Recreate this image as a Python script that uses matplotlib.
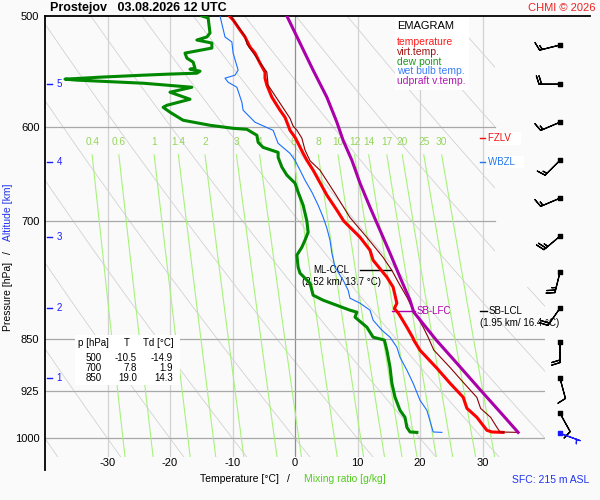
import numpy as np
import matplotlib
matplotlib.use('Agg')
import matplotlib.pyplot as plt
from matplotlib.patches import Polygon, Rectangle
from matplotlib.ticker import FixedLocator, NullLocator

plt.rcParams['font.family'] = ['Liberation Sans', 'DejaVu Sans']

# ---- sounding data ----
temp_p = [500, 503.3, 511.6, 517.5, 526.1, 531.4, 540.2, 548.3, 553.7, 560.1, 571.3, 583.6,
          590.4, 598.2, 603.2, 610.1, 616.2, 626.4, 633.6, 643.9, 670.9, 687.6, 700, 718.8,
          734.3, 746.5, 767.5, 780.2, 790.6, 801, 808, 815, 833.2, 848.4, 851, 865.3, 891.2,
          913.4, 934.6, 951.7, 966, 986.8, 989.5, 990.2]
temp_T = [-10.5, -9.9, -8.8, -8.0, -7.2, -6.4, -5.6, -4.8, -4.8, -4.5, -3.7, -2.4,
          -1.6, -1.1, -0.8, 0.0, 0.5, 1.3, 1.9, 2.9, 5.1, 6.7, 7.8, 10.4,
          12.0, 12.5, 14.7, 15.7, 16.0, 16.3, 15.9, 16.6, 17.9, 18.9, 19.0, 20.0, 22.7,
          24.8, 26.9, 27.5, 29.1, 30.7, 31.5, 33.3]

virt_p = [500, 516.6, 523.5, 548.3, 560.1, 591.4, 599, 603, 611, 623, 634, 644, 669, 696,
          719, 743, 759, 775, 793, 810, 833, 847, 865, 891, 913, 935, 952, 966, 982, 989.5, 990.2]
virt_T = [-10.3, -8.0, -7.7, -4.5, -4.3, -0.8, -0.3, 0.3, 1.1, 1.6, 2.4, 4.0, 6.4, 8.8,
          11.5, 14.1, 15.5, 16.6, 17.9, 18.9, 20.5, 21.3, 22.2, 24.9, 27.0, 29.1, 29.7, 31.3,
          32.3, 32.8, 35.7]

dew_p = [500, 501.6, 514.1, 517.5, 520.1, 522.7, 527, 531.4, 535.8, 539.3, 544.7, 545.6,
         547.4, 549.2, 550.1, 551, 552.8, 554.6, 555.5, 558.3, 562, 566.6, 573.2, 578.9,
         580.8, 585.5, 593.3, 598.2, 601.2, 602.2, 608.1, 615.2, 620.3, 625.4, 630.5, 640.7,
         649.2, 657.8, 667.6, 682, 700, 712.9, 722.3, 730.7, 740.3, 755.1, 762.5, 775.1,
         790.6, 797.1, 810.3, 812.9, 819.6, 833.2, 847, 851, 865.3, 889.7, 913.4, 934.6,
         954.9, 966, 982, 989.5, 990.2]
dew_T = [-14.9, -13.9, -13.6, -14.1, -15.7, -13.3, -13.3, -17.6, -17.3, -16.3, -16.0, -16.8,
         -15.2, -15.7, -20.5, -24.3, -31.2, -36.8, -34.9, -24.3, -16.5, -20.0, -16.8, -20.5,
         -21.1, -20.0, -17.9, -13.6, -9.9, -7.7, -6.1, -5.9, -5.1, -2.7, -2.7, -2.1,
         -1.3, 0.0, 0.5, 1.3, 1.9, 2.1, 1.6, 1.1, 0.3, 0.5, 0.8, 2.4,
         2.9, 4.5, 8.8, 9.9, 9.6, 11.5, 12.5, 14.3, 14.7, 15.2, 15.5, 16.0,
         16.8, 17.6, 17.9, 18.4, 19.5]

wet_p = [500, 517.5, 521.8, 531.4, 546.5, 551, 553.7, 557.4, 562, 576, 583.6, 595.2, 603.2,
         616.2, 626.4, 633.6, 643.9, 654.6, 667.6, 682, 695.6, 708.2, 722.3, 737.9, 755.1,
         771.3, 784.1, 794.5, 801, 810.3, 823.7, 837.3, 847, 861, 875.2, 894.1, 913.4, 939.3,
         954.9, 982, 989.5, 990.2]
wet_T = [-12.0, -11.2, -10.1, -9.9, -9.1, -9.6, -11.2, -10.7, -9.3, -8.5, -8.3, -6.4, -3.5,
         -2.7, -0.8, 0.0, 0.8, 1.6, 2.7, 3.7, 4.5, 5.1, 5.6, 5.9, 6.4,
         7.7, 8.5, 8.8, 10.4, 12.0, 12.5, 13.9, 15.2, 16.3, 16.8, 17.9, 18.9, 20.0,
         21.1, 21.9, 22.1, 23.5]

parcel_p = [500, 522.7, 546.5, 571.3, 595.2, 613.2, 633.6, 657.8, 684.3, 710.6, 737.9, 767.5,
            797.1, 812.8, 851, 884, 924, 963, 990.2]
parcel_T = [-1.3, 0.8, 2.9, 5.1, 6.7, 7.7, 9.1, 10.4, 12.0, 13.6, 15.2, 16.8,
            18.4, 19.0, 22.6, 25.9, 29.7, 33.3, 35.7]

mix_ratios = [0.4, 0.6, 1, 1.4, 2, 3, 4, 6, 8, 10, 12, 14, 17, 20, 25, 30]
mix_labels = ['0.4', '0.6', '1', '1.4', '2', '3', '4', '6', '8', '10', '12', '14', '17', '20', '25', '30']

p_ticks = [500, 600, 700, 850, 925, 1000]
t_ticks = [-30, -20, -10, 0, 10, 20, 30]
alt_km = [1, 2, 3, 4, 5]
alt_p = [906, 808, 718, 635, 559]

barb_p = [524.4, 559.2, 595.2, 633.6, 674.2, 717.6, 761.3, 807.6, 853.1, 905.9, 959.6, 991.7]
barb_dir = [256, 270, 247, 225, 247, 230, 194, 215, 180, 165, 151, 110]
barb_spd = [15, 20, 15, 15, 15, 25, 25, 20, 20, 10, 10, 5]

table_p = [500, 700, 850]
table_T = [-10.5, 7.8, 19.0]
table_Td = [-14.9, 1.9, 14.3]

fzlv_p = 611
wbzl_p = 635.5
ccl_p, ccl_text = 759, '(2.52 km/ 13.7 °C)'
lfc_p = 811
lcl_p, lcl_text = 811, '(1.95 km/ 16.4 °C)'

P_BOT = 1031
BG = '#fafafa'


def dewpt(w, p):
    e = w * p / (622.0 + w)
    a = np.log(e / 6.112)
    return 243.5 * a / (17.67 - a)


def F(x, y):
    return x / 600, 1 - y / 500


fig = plt.figure(figsize=(6, 5), dpi=100, facecolor=BG)
ax = fig.add_axes([45 / 600, 1 - 457 / 500, 500 / 600, 441 / 500])
ax.set_facecolor(BG)
ax.set_yscale('log')
ax.set_xlim(-40, 40)
ax.set_ylim(P_BOT, 500)
for s in ax.spines.values():
    s.set_visible(False)

clip = Polygon([[-40, 500], [32, 500], [32, 780], [40, 780], [40, P_BOT], [-40, P_BOT]],
               closed=True, facecolor='none', edgecolor='none')
ax.add_patch(clip)

# dry adiabats
pp = np.geomspace(500, P_BOT, 200)
for th in range(-40, 110, 10):
    tt = (th + 273.15) * (pp / 1000) ** 0.2857 - 273.15
    ln, = ax.plot(tt, pp, color='#d2d2d2', lw=0.6, zorder=1)
    ln.set_clip_path(clip)

# mixing ratio lines
pm = np.geomspace(628, P_BOT, 60)
for w, lab in zip(mix_ratios, mix_labels):
    ax.plot(dewpt(w, pm), pm, color='#a8f27c', lw=0.8, zorder=1.5)
    ax.text(dewpt(w, 628), 615, lab, color='#96d65a', fontsize=7.3, ha='center', va='center',
            zorder=1.5)

# isotherms and isobars
for t in t_ticks:
    ax.plot([t, t], [500, P_BOT], color='#909090' if t == 0 else '#d2d2d2', lw=0.9, zorder=1.2)
for p in p_ticks[1:]:
    ax.plot([-40, 32 if p < 800 else 40], [p, p], color='#a8a8a8', lw=0.9, zorder=1.3)

ax.plot([-40, 47.2], [500, 500], color='black', lw=1.3, clip_on=False, zorder=3)
ax.plot([-40, -40], [500, 1054], color='black', lw=1.3, clip_on=False, zorder=3)

ax.yaxis.set_major_locator(FixedLocator(p_ticks))
ax.yaxis.set_minor_locator(NullLocator())
ax.set_yticklabels([str(p) for p in p_ticks], fontsize=8)
ax.set_xticks(t_ticks)
ax.set_xticklabels([str(t) for t in t_ticks], fontsize=8)
ax.tick_params(axis='both', length=0)
ax.tick_params(axis='y', pad=4)
ax.tick_params(axis='x', pad=1)

# altitude marks
for km, p in zip(alt_km, alt_p):
    ax.plot([-39.7, -38.9], [p, p], color='#1a1aff', lw=1, zorder=3)
    ax.text(-37.7, p, str(km), color='#1a1aff', fontsize=7, ha='center', va='center', zorder=3)

# annotations
ax.plot([10.4, 15.4], [ccl_p, ccl_p], color='black', lw=1, zorder=2)
ax.text(5.84, ccl_p, 'ML-CCL', fontsize=7, ha='center', va='center', zorder=2)
ax.annotate(ccl_text, xy=(7.5, ccl_p), xytext=(0, -8.6), textcoords='offset points',
            fontsize=7, ha='center', va='center', zorder=2)
ax.plot([15.5, 19.2], [lfc_p, lfc_p], color='#b000b0', lw=1, zorder=2)
ax.text(19.4, lfc_p, 'SB-LFC', color='#b000b0', fontsize=7, ha='left', va='center', zorder=2)
ax.plot([29.6, 30.7], [lcl_p, lcl_p], color='black', lw=1, zorder=2, clip_on=False)
ax.text(30.9, lcl_p, 'SB-LCL', fontsize=7, ha='left', va='center', zorder=2, clip_on=False)
ax.annotate(lcl_text, xy=(36.0, lcl_p), xytext=(0, -8.6), textcoords='offset points',
            fontsize=7, ha='center', va='center', zorder=2, annotation_clip=False)
for lp, lab, col in [(fzlv_p, 'FZLV', '#ee1111'), (wbzl_p, 'WBZL', '#2277ee')]:
    ax.plot([29.6, 30.4], [lp, lp], color=col, lw=1, zorder=4)
    ax.text(30.9, lp, lab + '   ', color=col, fontsize=7, ha='left', va='center', zorder=4,
            bbox=dict(facecolor='white', edgecolor='none', pad=1))

# profiles
ax.plot(wet_T, wet_p, color='#1a6fff', lw=0.8, zorder=5)
ax.plot(dew_T, dew_p, color='#008800', lw=2.2, zorder=5)
ax.plot(temp_T, temp_p, color='#ff0000', lw=2.2, zorder=5)
ax.plot(virt_T, virt_p, color='#8b0000', lw=0.8, zorder=6)
ax.plot(parcel_T, parcel_p, color='#aa00aa', lw=2.2, zorder=6)

# wind barbs
d = np.radians(barb_dir)
u = -np.array(barb_spd) * np.sin(d)
v = -np.array(barb_spd) * np.cos(d)
bx = np.full(len(barb_p), 42.4)
ax.barbs(bx[:-1], barb_p[:-1], u[:-1], v[:-1], length=5.5, lw=0.9, color='black',
         clip_on=False, zorder=6)
ax.barbs(bx[-1:], barb_p[-1:], u[-1:], v[-1:], length=5.5, lw=0.9, color='#1a1aff',
         clip_on=False, zorder=6)
ax.scatter(bx[:-1], barb_p[:-1], s=6, marker='s', color='black', clip_on=False, zorder=7)
ax.scatter(bx[-1:], barb_p[-1:], s=6, marker='s', color='#1a1aff', clip_on=False, zorder=7)

# legend box
ax.add_patch(Rectangle(F(395, 90), 74 / 600, 73 / 500, transform=fig.transFigure,
                       facecolor='white', edgecolor='none', zorder=2, clip_on=False))
ax.text(*F(397, 26), 'EMAGRAM', transform=fig.transFigure, fontsize=8, va='center', zorder=3)
legend_items = [('temperature', '#ff1a1a'), ('virt.temp.', '#a01010'), ('dew point', '#1a9a1a'),
                ('wet bulb temp.', '#3a7dff'), ('udpraft v.temp.', '#b01ab0')]
for i, (lab, col) in enumerate(legend_items):
    ax.text(*F(397, 42 + 9.8 * i), lab, transform=fig.transFigure, fontsize=7.5, color=col,
            va='center', zorder=3)

# table
ax.add_patch(Rectangle(F(75, 385), 105 / 600, 50 / 500, transform=fig.transFigure,
                       facecolor='white', edgecolor='none', zorder=2, clip_on=False))
ax.text(*F(78, 343), 'p [hPa]', transform=fig.transFigure, fontsize=7, va='center', zorder=3)
ax.text(*F(127, 343), 'T', transform=fig.transFigure, fontsize=7, va='center', ha='center', zorder=3)
ax.text(*F(143, 343), 'Td [°C]', transform=fig.transFigure, fontsize=7, va='center', zorder=3)
for i, (p, t, td) in enumerate(zip(table_p, table_T, table_Td)):
    y = 358 + 10 * i
    ax.text(*F(102, y), str(p), transform=fig.transFigure, fontsize=7, va='center', ha='right', zorder=3)
    ax.text(*F(137, y), f'{t:.1f}', transform=fig.transFigure, fontsize=7, va='center', ha='right', zorder=3)
    ax.text(*F(173, y), f'{td:.1f}', transform=fig.transFigure, fontsize=7, va='center', ha='right', zorder=3)

# titles and axis labels
fig.text(*F(50, 8), 'Prostejov   03.08.2026 12 UTC', fontsize=9, fontweight='bold', va='center')
fig.text(*F(596, 8), 'CHMI © 2026', fontsize=8, color='#ee2222', va='center', ha='right')
fig.text(*F(239, 479), 'Temperature [°C]', fontsize=7.5, va='center', ha='center')
fig.text(*F(288, 479), '/', fontsize=7.5, va='center', ha='center')
fig.text(*F(345, 479), 'Mixing ratio [g/kg]', fontsize=7.5, va='center', ha='center', color='#55cc22')
fig.text(*F(589, 480), 'SFC: 215 m ASL', fontsize=7.5, va='center', ha='right', color='#2233ee')
fig.text(*F(8, 296), 'Pressure [hPa]', fontsize=7.5, va='center', ha='center', rotation=90)
fig.text(*F(8, 253), '/', fontsize=7.5, va='center', ha='center', rotation=90)
fig.text(*F(8, 212), 'Altitude [km]', fontsize=7.5, va='center', ha='center', rotation=90,
         color='#2233ee')

fig.savefig('out.png', dpi=100, facecolor=BG)
